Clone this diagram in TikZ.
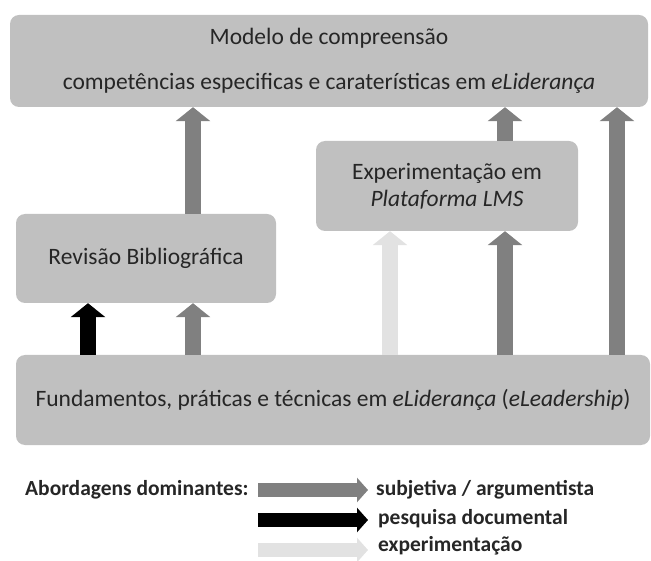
\documentclass[tikz,border=0pt]{standalone}
\usepackage{fontspec}
\setmainfont{Carlito}
\usepackage{tikz}
\usetikzlibrary{arrows.meta,calc,positioning}
\definecolor{boxgray}{HTML}{C0C0C0}
\definecolor{subjgray}{HTML}{808080}
\definecolor{expgray}{HTML}{E2E2E2}
\tikzset{%
	stage/.style    = {rectangle, fill=boxgray, rounded corners=9pt, text=black!85, align=center, inner sep=0pt, font=\fontsize{23.5}{27}\selectfont},
	flow/.style     = {line width=16pt, -{Triangle[width=34pt,length=14pt]}},
	subj/.style     = {flow, draw=subjgray},
	docum/.style    = {flow, draw=black},
	exper/.style    = {flow, draw=expgray},
	keyarrow/.style = {line width=14pt, -{Triangle[width=24pt,length=11pt]}, shorten >=8pt},
	keytext/.style  = {anchor=west, inner sep=0pt, text=black!85, font=\bfseries\fontsize{21.5}{24}\selectfont},
}

\begin{document}
\begin{tikzpicture}[x=1pt,y=-1pt]
	\useasboundingbox (0,0) rectangle (651,561);
	% blocks
	\node[stage, minimum width=638pt, minimum height=92pt] (model) at (329,61) {Modelo de compreensão\\[18pt]competências especificas e caraterísticas em \textit{eLiderança}};
	\node[stage, minimum width=260pt, minimum height=89pt] (revis) at (146,258.5) {Revisão Bibliográfica};
	\node[stage, minimum width=262pt, minimum height=90pt] (lms) at (447,186) {Experimentação em\\\textit{Plataforma LMS}};
	\node[stage, minimum width=634pt, minimum height=90pt] (fund) at (333,400) {Fundamentos, práticas e técnicas em \textit{eLiderança} (\textit{eLeadership})};
	
	% columns of the arrows
	\coordinate (colA) at (88,0);
	\coordinate (colB) at (193,0);
	\coordinate (colC) at (390,0);
	\coordinate (colD) at (505,0);
	\coordinate (colE) at (617,0);
	
	\draw[docum] (colA |- fund.north) -- (colA |- revis.south);
	\draw[subj] (colB |- fund.north) -- (colB |- revis.south);
	\draw[subj] (colB |- revis.north) -- (colB |- model.south);
	\draw[exper] (colC |- fund.north) -- (colC |- lms.south);
	\draw[subj] (colD |- fund.north) -- (colD |- lms.south);
	\draw[subj] (colD |- lms.north) -- (colD |- model.south);
	\draw[subj] (colE |- fund.north) -- (colE |- model.south);
	
	% legend
	\node[keytext] (key) at (25,490) {Abordagens dominantes:};
	\node[keytext] (lsubj) at (376,490) {subjetiva / argumentista};
	\node[keytext] (ldoc) at (378,519) {pesquisa documental};
	\node[keytext] (lexp) at (378,546) {experimentação};
	\coordinate (ksubj) at (258,490);
	\coordinate (kdoc) at (258,520);
	\coordinate (kexp) at (258,550);
	\draw[keyarrow, draw=subjgray] (ksubj) -- (ksubj -| lsubj.west);
	\draw[keyarrow, draw=black] (kdoc) -- (kdoc -| lsubj.west);
	\draw[keyarrow, draw=expgray] (kexp) -- (kexp -| lsubj.west);
\end{tikzpicture}
\end{document}
